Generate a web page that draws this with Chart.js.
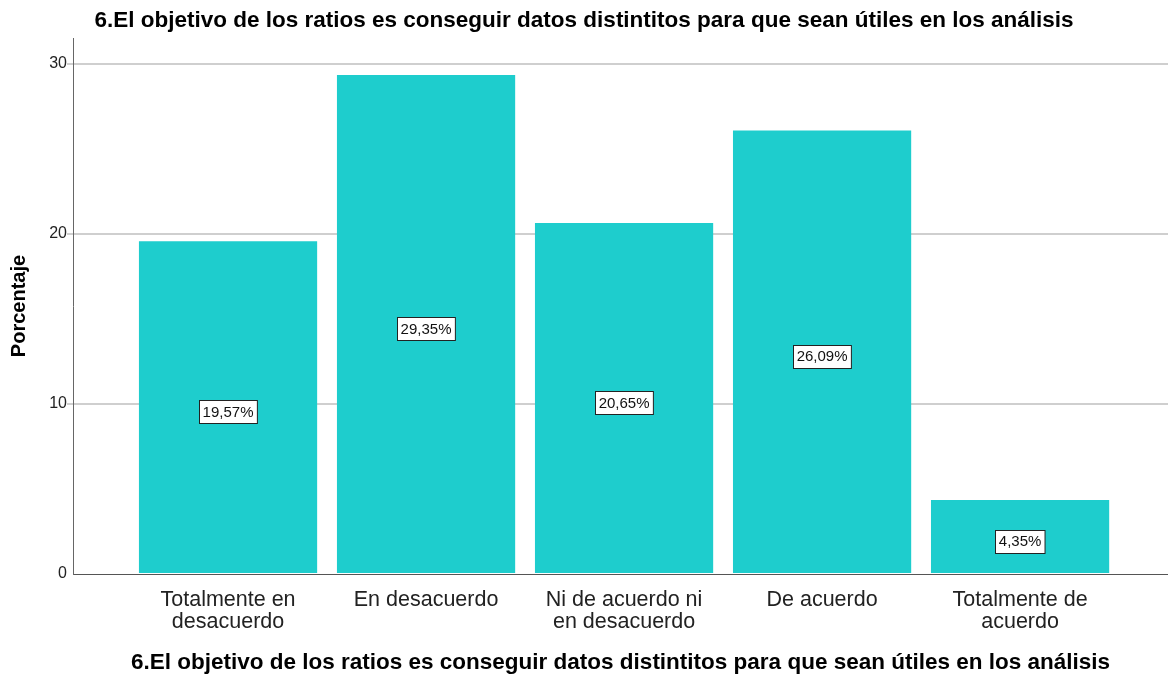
<!DOCTYPE html>
<html>
<head>
<meta charset="utf-8">
<script src="https://cdn.jsdelivr.net/npm/chart.js@4.4.1/dist/chart.umd.min.js"></script>
<style>
  html, body { margin: 0; padding: 0; background: #fff; }
  #wrap { width: 1168px; height: 679px; position: relative; }
</style>
</head>
<body>
<div id="wrap"><canvas id="barChart"></canvas></div>
<script>
// datos del gráfico
const chartTitle = '6.El objetivo de los ratios es conseguir datos distintitos para que sean útiles en los análisis';
const categories = [
    ['Totalmente en', 'desacuerdo'],
    ['En desacuerdo'],
    ['Ni de acuerdo ni', 'en desacuerdo'],
    ['De acuerdo'],
    ['Totalmente de', 'acuerdo']
];
const percentages = [19.57, 29.35, 20.65, 26.09, 4.35];
const yTicks = [0, 10, 20, 30];

const barColor = '#1ECDCD';
const fontFamily = '"Liberation Sans", Arial, sans-serif';

// etiquetas con caja blanca en el centro de cada barra
const boxLabels = {
    id: 'boxLabels',
    afterDatasetsDraw(chart) {
        const ctx = chart.ctx;
        const meta = chart.getDatasetMeta(0);
        const yScale = chart.scales.y;
        ctx.save();
        ctx.font = '15px ' + fontFamily;
        ctx.textAlign = 'center';
        ctx.textBaseline = 'middle';
        meta.data.forEach((bar, i) => {
            const text = percentages[i].toFixed(2).replace('.', ',') + '%';
            const cy = yScale.getPixelForValue(percentages[i] / 2) + 4;
            const w = ctx.measureText(text).width + 7;
            const h = 23;
            const x = Math.round(bar.x - w / 2) + 0.5;
            const y = Math.round(cy - h / 2) + 0.5;
            ctx.fillStyle = '#fff';
            ctx.fillRect(x, y, w, h);
            ctx.strokeStyle = '#222';
            ctx.lineWidth = 1;
            ctx.strokeRect(x, y, w, h);
            ctx.fillStyle = '#111';
            ctx.fillText(text, bar.x, cy + 1);
        });
        ctx.restore();
    }
};

const ctx = document.getElementById('barChart').getContext('2d');
new Chart(ctx, {
    type: 'bar',
    data: {
        datasets: [{
            label: 'Porcentaje',
            data: percentages.map((v, i) => ({ x: i, y: v })),
            backgroundColor: barColor,
            borderWidth: 0,
            barPercentage: 0.9,
            categoryPercentage: 1.0
        }]
    },
    options: {
        responsive: true,
        maintainAspectRatio: false,
        animation: false,
        layout: { padding: 0 },
        plugins: {
            legend: { display: false },
            tooltip: { enabled: false },
            title: {
                display: true,
                text: chartTitle,
                color: '#000',
                font: { family: fontFamily, size: 22.5, weight: 'bold' },
                padding: { top: 7, bottom: 4 }
            }
        },
        scales: {
            x: {
                type: 'linear',
                offset: false,
                min: -0.783,
                max: 4.747,
                afterFit: s => { s.height = 105; },
                afterBuildTicks: s => { s.ticks = categories.map((c, i) => ({ value: i })); },
                ticks: {
                    includeBounds: false,
                    stepSize: 1,
                    padding: 15,
                    color: '#222',
                    font: { family: fontFamily, size: 21.5, lineHeight: 1.03 },
                    callback: v => categories[v]
                },
                grid: { display: false, drawTicks: false },
                border: { display: true, color: '#555', width: 1 },
                title: {
                    display: true,
                    text: chartTitle,
                    color: '#000',
                    font: { family: fontFamily, size: 22.5, weight: 'bold' },
                    padding: { top: 4, bottom: 3 }
                }
            },
            y: {
                min: 0,
                max: 31.53,
                afterFit: s => { s.width = 73; },
                afterBuildTicks: s => { s.ticks = yTicks.map(v => ({ value: v })); },
                ticks: {
                    includeBounds: false,
                    stepSize: 10,
                    padding: 0,
                    color: '#222',
                    font: { family: fontFamily, size: 16 }
                },
                grid: {
                    color: ctx => ctx.tick && ctx.tick.value === 0 ? 'rgba(0,0,0,0)' : '#cfcfcf',
                    lineWidth: 2,
                    tickLength: 6
                },
                border: { display: true, color: '#666', width: 1 },
                title: {
                    display: true,
                    text: 'Porcentaje',
                    color: '#000',
                    font: { family: fontFamily, size: 20, weight: 'bold' },
                    padding: { top: 7, bottom: 0 }
                }
            }
        }
    },
    plugins: [boxLabels]
});
</script>
</body>
</html>
